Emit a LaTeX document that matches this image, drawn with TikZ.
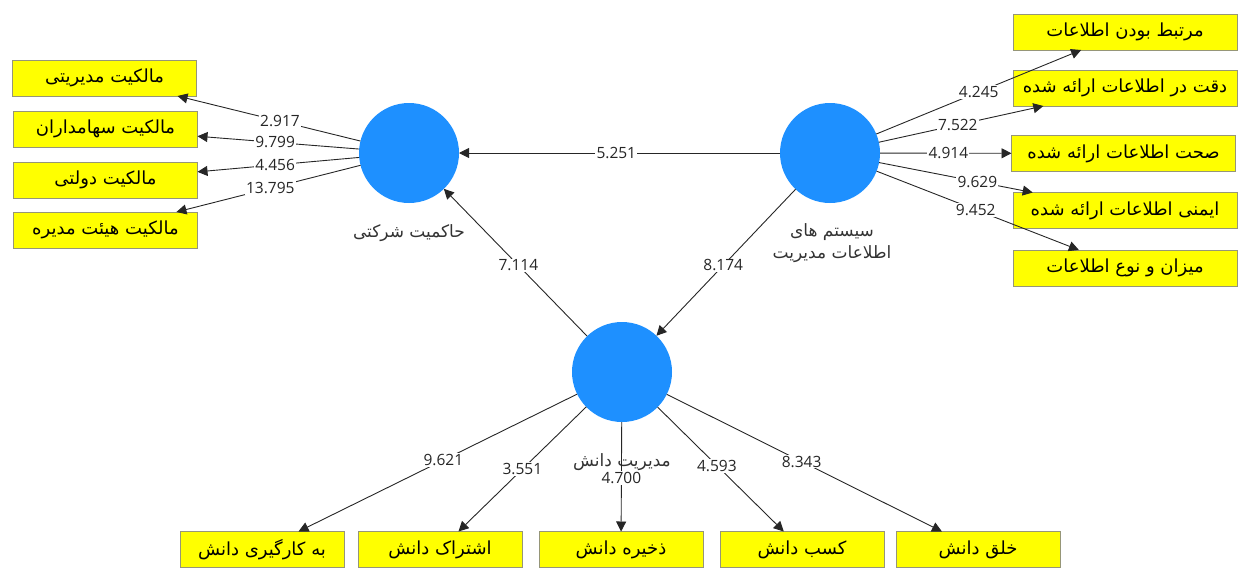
\documentclass[tikz,border=0pt]{standalone}
\usepackage{fontspec}
\usetikzlibrary{arrows.meta}
\TeXXeTstate=1
\newfontfamily\arabicfont[Script=Arabic]{DejaVu Sans}
\newfontfamily\numfont{Open Sans}
\definecolor{circblue}{RGB}{30,144,255}
\definecolor{boxyellow}{RGB}{255,255,0}
\definecolor{boxborder}{RGB}{150,150,120}
\newcommand{\fa}[1]{{\arabicfont\beginR #1\endR}}
\tikzset{
  lv/.style={circle, fill=circblue, draw=none, minimum size=100pt, inner sep=0pt, outer sep=0pt},
  ind/.style={rectangle, fill=boxyellow, draw=boxborder, line width=0.8pt, minimum height=36pt, inner sep=0pt, outer sep=0pt, font=\arabicfont\fontsize{18}{20}\selectfont},
  indL/.style={ind, minimum width=184pt},
  indR/.style={ind, minimum width=224pt},
  indB/.style={ind, minimum width=164pt},
  arr/.style={draw=black!85, line width=0.9pt, -{Triangle[length=10pt,width=10pt]}},
  lbl/.style={fill=white, inner sep=1.2pt, font=\numfont\fontsize{15.5}{17}\selectfont, text=black!85},
  clbl/.style={font=\arabicfont\fontsize{17}{22}\selectfont, text=black!80, align=center}
}
\begin{document}
\begin{tikzpicture}[x=1pt,y=-1pt]
\useasboundingbox (0,0) rectangle (1239,568);
% latent variables
\node[lv] (gc) at (409,153) {};
\node[lv] (mis) at (830,153) {};
\node[lv] (km) at (622,372) {};
% circle labels
\node[clbl] (gcl) at (409,233) {\fa{حاکمیت شرکتی}};
\node[clbl] (misl) at (832,243) {\fa{سیستم های}\\ \fa{اطلاعات مدیریت}};
% left indicators
\node[indL] (l1) at (104.5,78) {\fa{مالکیت مدیریتی}};
\node[indL] (l2) at (105.5,129) {\fa{مالکیت سهامداران}};
\node[indL] (l3) at (105.5,180) {\fa{مالکیت دولتی}};
\node[indL] (l4) at (105.5,230) {\fa{مالکیت هیئت مدیره}};
% right indicators
\node[indR] (r1) at (1125,32) {\fa{مرتبط بودن اطلاعات}};
\node[indR] (r2) at (1125,88) {\fa{دقت در اطلاعات ارائه شده}};
\node[indR] (r3) at (1123.5,153.5) {\fa{صحت اطلاعات ارائه شده}};
\node[indR] (r4) at (1125,210.5) {\fa{ایمنی اطلاعات ارائه شده}};
\node[indR] (r5) at (1125,268) {\fa{میزان و نوع اطلاعات}};
% bottom indicators
\node[indB] (b1) at (262,549.5) {\fa{به کارگیری دانش}};
\node[indB] (b2) at (440,549.5) {\fa{اشتراک دانش}};
\node[indB] (b3) at (621,549.5) {\fa{ذخیره دانش}};
\node[indB] (b4) at (802,549.5) {\fa{کسب دانش}};
\node[indB] (b5) at (978,549.5) {\fa{خلق دانش}};
% km label (line passes through it)
\node[clbl] (kml) at (622,462) {\fa{مدیریت دانش}};
% structural paths
\draw[arr] (mis) -- node[lbl, pos=0.51] {5.251} (gc);
\draw[arr] (km) -- node[lbl, pos=0.48] {7.114} (gc);
\draw[arr] (mis) -- node[lbl, pos=0.52] {8.174} (km);
% left loadings
\draw[arr] (gc) -- node[lbl, pos=0.44] {2.917} (l1);
\draw[arr] (gc) -- node[lbl, pos=0.52] {9.799} (l2);
\draw[arr] (gc) -- node[lbl, pos=0.52] {4.456} (l3);
\draw[arr] (gc) -- node[lbl, pos=0.49] {13.795} (l4);
% right loadings
\draw[arr] (mis) -- node[lbl, pos=0.50] {4.245} (r1);
\draw[arr] (mis) -- node[lbl, pos=0.48] {7.522} (r2);
\draw[arr] (mis) -- node[lbl, pos=0.52] {4.914} (r3);
\draw[arr] (mis) -- node[lbl, pos=0.64] {9.629} (r4);
\draw[arr] (mis) -- node[lbl, pos=0.49] {9.452} (r5);
% bottom loadings
\draw[arr] (km) -- node[lbl, pos=0.48] {9.621} (b1);
\draw[arr] (km) -- node[lbl, pos=0.50] {3.551} (b2);
\draw[arr] (km) -- node[lbl, pos=0.51] {4.700} (b3);
\draw[arr] (km) -- node[lbl, pos=0.47] {4.593} (b4);
\draw[arr] (km) -- node[lbl, pos=0.49] {8.343} (b5);
\end{tikzpicture}
\end{document}
